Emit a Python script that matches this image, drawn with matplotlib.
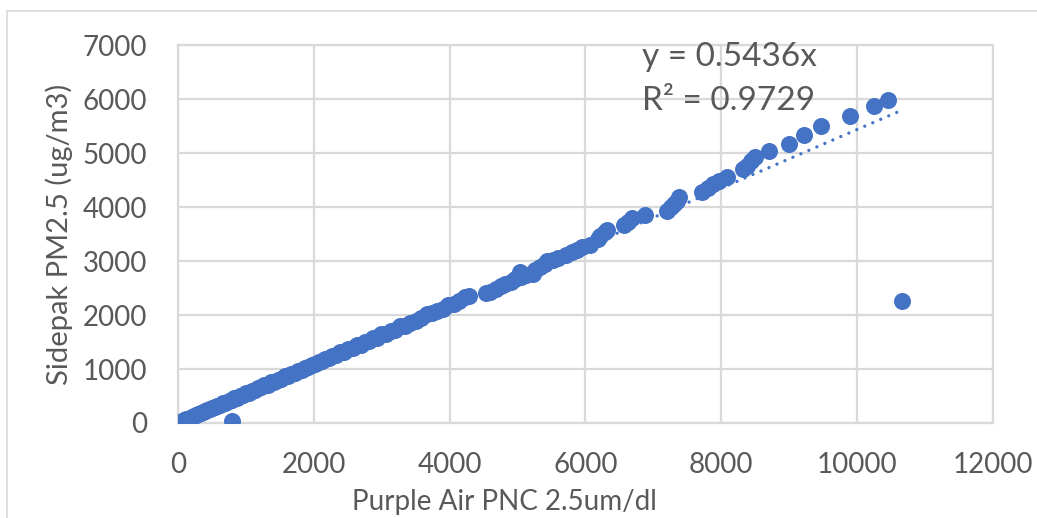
import numpy as np
import matplotlib
matplotlib.use("Agg")
import matplotlib.pyplot as plt
from matplotlib.lines import Line2D

# Purple Air PNC (x) vs Sidepak PM2.5 (y)
purple_air = [
    0, 20, 45, 70, 95, 120, 150, 180, 210, 240, 270, 300, 335, 370, 400, 430,
    465, 500, 540, 580, 620, 660, 700, 745, 790, 830, 870, 910, 955, 1000,
    1045, 1090, 1135, 1180, 1225, 1270, 1320, 1370, 1420, 1470, 1520, 1570,
    1620, 1670, 1720, 1770, 1820, 1870, 1920, 1970, 2020, 2070, 2120, 2170,
    2220, 2270, 2330, 2390, 2450, 2510, 2570, 2630, 2690, 2750, 2810, 2870,
    2930, 2990, 3060, 3130, 3200, 3270, 3340, 3420, 3500, 3580, 3660, 3740,
    3820, 3900, 3980, 4060, 4140, 4220, 4290,
    4540, 4600, 4680, 4760, 4820, 4900, 4960, 5030, 5050, 5130, 5220, 5260,
    5330, 5400, 5440, 5520, 5600, 5720, 5800, 5880, 5950, 6060, 6180, 6220,
    6280, 6320, 6560, 6620, 6680, 6880, 7200, 7260, 7300, 7340, 7380, 7720,
    7800, 7880, 7960, 8080, 8320, 8380, 8440, 8500, 8700, 8990, 9220, 9460,
    9900, 10250, 10460,
    10660, 790,
]
sidepak = [
    0, 10, 22, 40, 50, 68, 80, 100, 112, 135, 145, 168, 178, 205, 214, 240,
    250, 278, 290, 318, 332, 362, 375, 410, 425, 455, 468, 500, 512, 548,
    560, 598, 610, 648, 660, 698, 712, 752, 765, 805, 820, 862,
    872, 915, 925, 968, 980, 1025, 1035, 1078, 1090, 1132, 1142, 1188,
    1198, 1240, 1255, 1310, 1322, 1372, 1385, 1438, 1450, 1505, 1515, 1570,
    1582, 1640, 1650, 1712, 1722, 1790, 1800, 1860, 1880, 1950, 2010, 2030,
    2080, 2120, 2180, 2200, 2260, 2330, 2360,
    2400, 2430, 2480, 2540, 2580, 2620, 2660, 2790, 2700, 2740, 2760, 2830,
    2880, 2940, 3000, 3020, 3060, 3120, 3160, 3200, 3260, 3300, 3400, 3460,
    3540, 3580, 3660, 3720, 3790, 3850, 3920, 4000, 4060, 4120, 4190, 4280,
    4350, 4420, 4480, 4560, 4700, 4760, 4850, 4930, 5040, 5170, 5330, 5500,
    5690, 5870, 5990,
    2260, 35,
]

trend_slope = 0.5436
trend_r2 = 0.9729

blue = "#4472C4"
grey_text = "#595959"
grid_col = "#D9D9D9"

plt.rcParams['font.family'] = ['Lato', 'DejaVu Sans']

fig = plt.figure(figsize=(10.37, 5.18), dpi=100)
ax = fig.add_axes([0.1716, 0.1834, 0.786, 0.7297])

ax.scatter(purple_air, sidepak, s=150, color=blue, linewidths=0, zorder=3)

xs = np.array([0, max(purple_air)])
ax.plot(xs, trend_slope * xs, color=blue, lw=2.4, ls=(0, (0.01, 2.6)),
        dash_capstyle='round', zorder=4)

ax.set_xlim(0, 12000)
ax.set_ylim(0, 7000)
ax.set_xticks(np.arange(0, 12001, 2000))
ax.set_yticks(np.arange(0, 7001, 1000))
ax.grid(True, color=grid_col, lw=1.6, zorder=0)
ax.set_axisbelow(True)
for sp in ax.spines.values():
    sp.set_color(grid_col)
    sp.set_linewidth(1.6)
ax.tick_params(length=0, labelsize=20, labelcolor=grey_text)
ax.tick_params(axis='x', pad=21)
ax.tick_params(axis='y', pad=22)

ax.set_xlabel("Purple Air PNC 2.5um/dl", fontsize=20, color=grey_text)
ax.xaxis.set_label_coords(0.401, -0.175)
ax.set_ylabel("Sidepak PM2.5 (ug/m3)", fontsize=21, color=grey_text, labelpad=7)

ax.text(0.569, 0.968, "y = %.4fx" % trend_slope, transform=ax.transAxes,
        fontsize=24, color=grey_text, va='center', ha='left')
ax.text(0.569, 0.852, "R² = %.4f" % trend_r2, transform=ax.transAxes,
        fontsize=24, color=grey_text, va='center', ha='left')

# chart area border (top and left edges visible in the crop)
fig.add_artist(Line2D([7 / 1037, 1], [1 - 11 / 518, 1 - 11 / 518],
                      transform=fig.transFigure, color=grid_col, lw=1.2))
fig.add_artist(Line2D([7 / 1037, 7 / 1037], [0, 1 - 11 / 518],
                      transform=fig.transFigure, color=grid_col, lw=1.2))

fig.savefig("out.png", dpi=100)
